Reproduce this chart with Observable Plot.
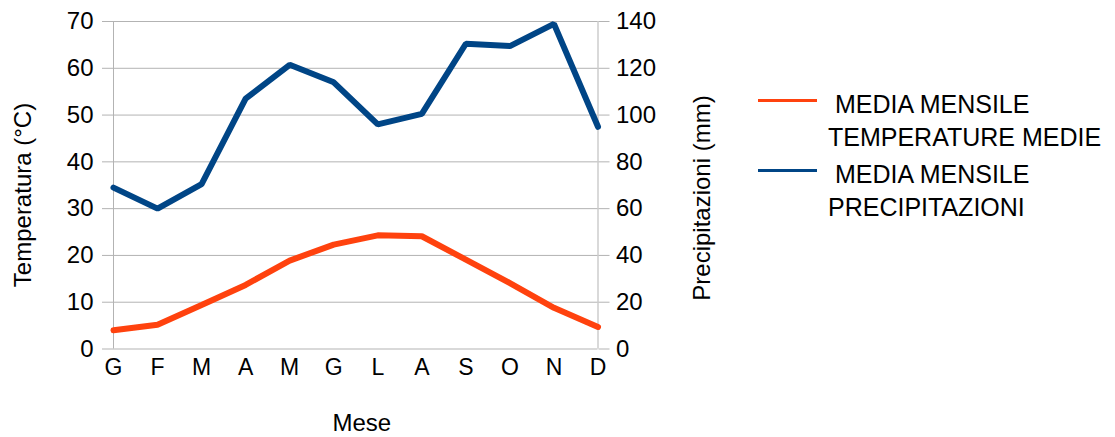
<!DOCTYPE html>
<html>
<head>
<meta charset="utf-8">
<script src="https://cdn.jsdelivr.net/npm/d3@7"></script>
<script src="https://cdn.jsdelivr.net/npm/@observablehq/plot@0.6"></script>
<style>
  html, body { margin: 0; padding: 0; background: #fff; }
  #wrap { position: relative; width: 1115px; height: 437px; font-family: "Liberation Sans", Arial, sans-serif; color: #000; }
  .title { position: absolute; font-size: 24px; line-height: 1; white-space: nowrap; }
  .title.v { transform: translate(-50%, -50%) rotate(-90deg); }
  .title.h { transform: translate(-50%, -50%); }
  #legend { position: absolute; left: 758px; top: 88px; font-size: 25px; line-height: 33px; }
  .entry { position: relative; padding-left: 70px; margin-bottom: 4px; white-space: pre; }
  .swatch { position: absolute; left: 0; top: 10.5px; width: 59px; height: 3px; }
</style>
</head>
<body>
<div id="wrap"></div>
<script>
// Mesi dell'anno (iniziali)
const months = ["G", "F", "M", "A", "M", "G", "L", "A", "S", "O", "N", "D"];
// Media mensile delle temperature medie (°C)
const temperature = [4.0, 5.2, 9.4, 13.7, 18.9, 22.3, 24.3, 24.1, 19.1, 14.1, 8.8, 4.7];
// Media mensile delle precipitazioni (mm)
const precipitation = [69, 60, 70.5, 107, 121.5, 114, 96, 100.5, 130.5, 129.5, 139, 95];
// Tacche degli assi
const tempTicks = [0, 10, 20, 30, 40, 50, 60, 70];
const precipTicks = [0, 20, 40, 60, 80, 100, 120, 140];
// Serie e colori
const seriesNames = [" MEDIA MENSILE\nTEMPERATURE MEDIE", " MEDIA MENSILE\nPRECIPITAZIONI"];
const seriesColors = ["#ff420e", "#004586"];
// Titoli degli assi
const titleTemp = "Temperatura (°C)";
const titlePrec = "Precipitazioni (mm)";
const titleMonth = "Mese";

// L'asse destro (mm) condivide la scala y: 140 mm corrispondono a 70 °C
const ratio = 2;
const rows = months.map((m, i) => ({i, temp: temperature[i], prec: precipitation[i] / ratio}));
const grid = "#b3b3b3";

const margin = {left: 113, right: 517.5, top: 21, bottom: 88.5};
const W = 1115, H = 437;

const chart = Plot.plot({
  width: W,
  height: H,
  marginLeft: margin.left,
  marginRight: margin.right,
  marginTop: margin.top,
  marginBottom: margin.bottom,
  style: {fontFamily: "'Liberation Sans', Arial, sans-serif", color: "#000", background: "#fff"},
  x: {domain: [0, months.length - 1], axis: null},
  y: {domain: [0, 70], axis: null},
  marks: [
    Plot.gridY(tempTicks, {stroke: grid, strokeOpacity: 1, strokeWidth: 1}),
    Plot.ruleX([0, months.length - 1], {stroke: grid, strokeWidth: 1}),
    Plot.axisY(tempTicks, {anchor: "left", tickSize: 11, tickPadding: 9, stroke: grid, fill: "#000", fontSize: 24, label: null}),
    Plot.axisY(precipTicks.map(d => d / ratio), {anchor: "right", tickSize: 11, tickPadding: 7, stroke: grid, fill: "#000", fontSize: 24, tickFormat: d => d * ratio, label: null}),
    Plot.axisX(d3.range(months.length), {tickSize: 0, tickPadding: 9.5, fill: "#000", fontSize: 23, tickFormat: i => months[i], label: null}),
    Plot.line(rows, {x: "i", y: "temp", stroke: seriesColors[0], strokeWidth: 6, strokeLinejoin: "miter"}),
    Plot.line(rows, {x: "i", y: "prec", stroke: seriesColors[1], strokeWidth: 6, strokeLinejoin: "miter"})
  ]
});

const wrap = document.getElementById("wrap");
wrap.appendChild(chart);

// Titoli degli assi, posizionati rispetto all'area del grafico
const frameMidY = (margin.top + (H - margin.bottom)) / 2;
const frameMidX = (margin.left + (W - margin.right)) / 2;
function addTitle(text, cls, x, y) {
  const d = document.createElement("div");
  d.className = "title " + cls;
  d.textContent = text;
  d.style.left = x + "px";
  d.style.top = y + "px";
  wrap.appendChild(d);
}
addTitle(titleTemp, "v", margin.left - 90.5, frameMidY + 10);
addTitle(titlePrec, "v", W - margin.right + 104.5, frameMidY + 13.5);
addTitle(titleMonth, "h", frameMidX + 6.5, H - margin.bottom + 74);

// Legenda a destra del grafico
const legend = document.createElement("div");
legend.id = "legend";
seriesNames.forEach((name, k) => {
  const entry = document.createElement("div");
  entry.className = "entry";
  const sw = document.createElement("span");
  sw.className = "swatch";
  sw.style.background = seriesColors[k];
  entry.appendChild(sw);
  entry.appendChild(document.createTextNode(name));
  legend.appendChild(entry);
});
wrap.appendChild(legend);
</script>
</body>
</html>
